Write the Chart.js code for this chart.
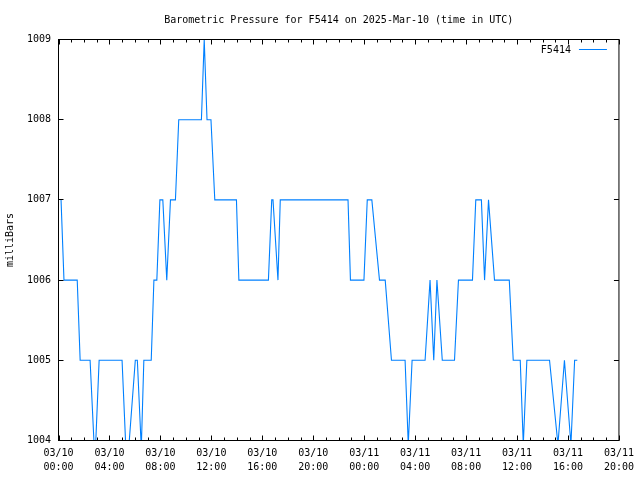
<!DOCTYPE html>
<html>
<head>
<meta charset="utf-8">
<script src="https://cdn.jsdelivr.net/npm/chart.js@4.4.1/dist/chart.umd.min.js"></script>
<style>
  html, body { margin: 0; padding: 0; background: #fff; }
  canvas { display: block; }
</style>
</head>
<body>
<canvas id="chart" width="640" height="480"></canvas>
<script>
  var TITLE = 'Barometric Pressure for F5414 on 2025-Mar-10 (time in UTC)';
  var SERIES = 'F5414';
  var BLUE = '#0080ff';
  var FONT = '"DejaVu Sans Mono", "Liberation Mono", monospace';

  // hours since 03/10 00:00 UTC (vertices of the trace)
  var HOURS = [
    0.20, 0.43, 1.47, 1.70, 2.48, 2.86, 3.19, 4.99, 5.37, 6.03,
    6.19, 6.50, 6.70, 7.28, 7.49, 7.72, 7.96, 8.19, 8.50, 8.79,
    9.18, 9.44, 11.22, 11.44, 11.66, 11.97, 12.27, 13.97, 14.16, 16.48,
    16.74, 16.84, 17.23, 17.41, 22.73, 22.92, 23.98, 24.24, 24.60, 25.20,
    25.65, 26.14, 27.21, 27.46, 27.76, 28.78, 29.17, 29.46, 29.71, 30.13,
    31.09, 31.40, 32.50, 32.76, 33.20, 33.45, 33.76, 34.23, 35.39, 35.70,
    36.25, 36.49, 36.77, 38.55, 39.21, 39.72, 40.23, 40.52, 40.73
  ];
  // milliBars at those times
  var PRESSURE = [
    1007, 1006, 1006, 1005, 1005, 1003.73, 1005, 1005, 1003.6, 1005,
    1005, 1003.9, 1005, 1005, 1006, 1006, 1007, 1007, 1006, 1007,
    1007, 1008, 1008, 1009, 1008, 1008, 1007, 1007, 1006, 1006,
    1007, 1007, 1006, 1007, 1007, 1006, 1006, 1007, 1007, 1006,
    1006, 1005, 1005, 1003.95, 1005, 1005, 1006, 1005, 1006, 1005,
    1005, 1006, 1006, 1007, 1007, 1006, 1007, 1006, 1006, 1005,
    1005, 1003.95, 1005, 1005, 1003.95, 1005, 1003.95, 1005, 1005
  ];
  var DAYS = ['03/10', '03/11'];
  var X_MIN = 0, X_MAX = 44, X_STEP = 4;
  var Y_MIN = 1004, Y_MAX = 1009;

  function pad(n) { return (n < 10 ? '0' : '') + n; }

  // gnuplot style frame: border, inward ticks on all four sides, legend inside
  var frame = {
    id: 'frame',
    afterDraw: function (chart) {
      var c = chart.ctx, a = chart.chartArea;
      var xs = chart.scales.x, ys = chart.scales.y;
      c.save();
      c.strokeStyle = '#000';
      c.lineWidth = 1;
      c.beginPath();
      for (var h = X_MIN; h <= X_MAX; h++) {
        var px = Math.round(xs.getPixelForValue(h)) + 0.5;
        var len = h % X_STEP === 0 ? 5 : 3;
        c.moveTo(px, a.bottom); c.lineTo(px, a.bottom - len);
        c.moveTo(px, a.top); c.lineTo(px, a.top + len);
      }
      for (var v = Y_MIN; v <= Y_MAX; v++) {
        var py = Math.round(ys.getPixelForValue(v) - 0.5) + 0.5;
        c.moveTo(a.left, py); c.lineTo(a.left + 5, py);
        c.moveTo(a.right, py); c.lineTo(a.right - 5, py);
      }
      c.stroke();
      c.strokeRect(a.left, a.top, a.right - a.left, a.bottom - a.top);

      c.font = '10px ' + FONT;
      c.fillStyle = '#000';
      c.textAlign = 'right';
      c.textBaseline = 'middle';
      c.fillText(SERIES, a.right - 48, a.top + 11);
      c.strokeStyle = BLUE;
      c.beginPath();
      c.moveTo(a.right - 40, a.top + 10);
      c.lineTo(a.right - 12, a.top + 10);
      c.stroke();
      c.restore();
    }
  };

  new Chart(document.getElementById('chart'), {
    type: 'line',
    data: {
      datasets: [{
        label: SERIES,
        data: HOURS.map(function (h, i) { return {x: h, y: PRESSURE[i]}; }),
        borderColor: BLUE,
        borderWidth: 1.1,
        pointRadius: 0,
        tension: 0,
        fill: false
      }]
    },
    options: {
      responsive: false,
      animation: false,
      devicePixelRatio: 1,
      layout: {padding: {left: 0, right: 18.5, top: 0, bottom: 0}},
      plugins: {
        legend: {display: false},
        tooltip: {enabled: false},
        title: {
          display: true,
          text: TITLE,
          color: '#000',
          fullSize: false,
          font: {family: FONT, size: 10, weight: 'normal'},
          padding: {top: 14, bottom: 13.5}
        }
      },
      scales: {
        x: {
          type: 'linear',
          min: X_MIN,
          max: X_MAX,
          afterFit: function (s) { s.height = 39.5; },
          grid: {display: false, drawTicks: false},
          border: {display: false},
          ticks: {
            stepSize: X_STEP,
            autoSkip: false,
            maxRotation: 0,
            padding: 6,
            color: '#000',
            font: {family: FONT, size: 10, lineHeight: 1.4},
            callback: function (v) {
              return [DAYS[Math.floor(v / 24)], pad(v % 24) + ':00'];
            }
          }
        },
        y: {
          min: Y_MIN,
          max: Y_MAX,
          afterFit: function (s) { s.width = 58.5; },
          grid: {display: false, drawTicks: false},
          border: {display: false},
          ticks: {
            stepSize: 1,
            padding: 7.5,
            color: '#000',
            font: {family: FONT, size: 10},
            callback: function (v) { return String(v); }
          },
          title: {
            display: true,
            text: 'milliBars',
            color: '#000',
            font: {family: FONT, size: 10},
            padding: {top: 4, bottom: 0}
          }
        }
      }
    },
    plugins: [frame]
  });
</script>
</body>
</html>
